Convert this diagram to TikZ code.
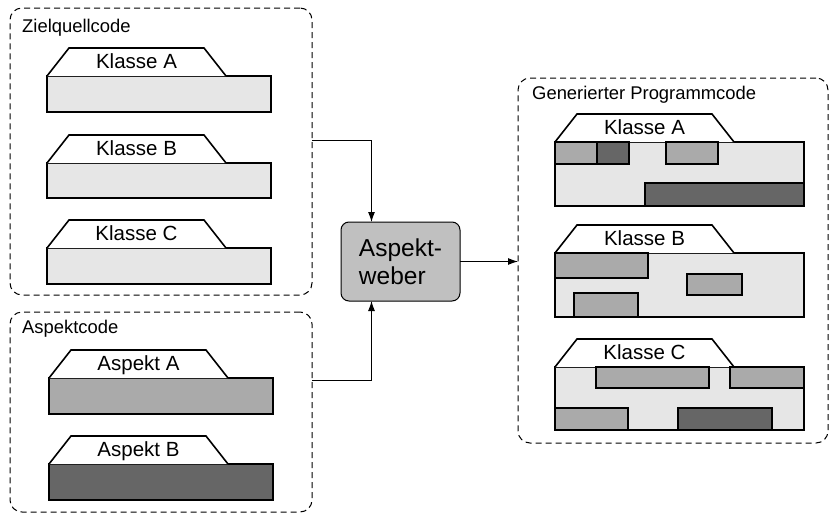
\documentclass[tikz,border=0pt]{standalone}
\usepackage{fontspec}
\setmainfont{Liberation Sans}
\usetikzlibrary{arrows.meta}

\definecolor{codegrau}{HTML}{E6E6E6}
\definecolor{aspekthell}{HTML}{AAAAAA}
\definecolor{aspektdunkel}{HTML}{666666}
\definecolor{webergrau}{HTML}{C0C0C0}

\tikzset{
  gruppe/.style={draw, dash pattern=on 6pt off 4pt, rounded corners=12pt, line width=1pt, inner sep=0pt, outer sep=0pt},
  gruppentitel/.style={anchor=base west, inner sep=0pt, font=\fontsize{18.4}{22}\selectfont},
  rumpf/.style={draw, line width=1.6pt, anchor=north west, inner sep=0pt, outer sep=0pt},
  reiter/.style={draw, line width=1.6pt, fill=white, line join=miter},
  reitertext/.style={anchor=base, inner sep=0pt, font=\fontsize{20.5}{24}\selectfont},
  teil/.style={draw, line width=1.6pt},
  weber/.style={draw, line width=1pt, fill=webergrau, rounded corners=8pt, minimum width=119pt, minimum height=79pt, align=left, outer sep=0pt, font=\fontsize{24.5}{28}\selectfont},
  pfeil/.style={-{Latex[length=10pt,width=7pt]}, line width=1pt},
}

% name, top-left of body, width, height, fill, label
\newcommand{\klasse}[6]{%
  \node[rumpf, fill=#5, minimum width=#3pt, minimum height=#4pt] (#1) at (#2) {};
  \draw[reiter] (#1.north west) -- ++(22,-28) -- ++(135,0) -- ++(22,28);
  \node[reitertext] (#1-name) at ([xshift=89.5pt,yshift=7.5pt]#1.north west) {#6};
}

\begin{document}
\begin{tikzpicture}[x=1pt, y=-1pt]
  \useasboundingbox (0,0) rectangle (830,514);

  % Gruppen
  \node[gruppe, minimum width=302pt, minimum height=287pt] (ziel) at (161,151.5) {};
  \node[gruppe, minimum width=302pt, minimum height=200pt] (asp) at (161,412) {};
  \node[gruppe, minimum width=310pt, minimum height=365pt] (gen) at (673,260.5) {};
  \node[gruppentitel] (ziel-titel) at (22,32) {Zielquellcode};
  \node[gruppentitel] (asp-titel) at (22,333) {Aspektcode};
  \node[gruppentitel] (gen-titel) at (532,99) {Generierter Programmcode};

  % Zielquellcode
  \klasse{zA}{47,76}{224}{36}{codegrau}{Klasse A}
  \klasse{zB}{47,163}{224}{35}{codegrau}{Klasse B}
  \klasse{zC}{47,248}{224}{36}{codegrau}{Klasse C}

  % Aspektcode
  \klasse{aA}{49,378}{224}{36}{aspekthell}{Aspekt A}
  \klasse{aB}{49,464}{224}{36}{aspektdunkel}{Aspekt B}

  % Generierter Programmcode
  \klasse{gA}{555,142}{249}{64}{codegrau}{Klasse A}
  \draw[teil, fill=aspekthell] (555,142) rectangle (597,164);
  \draw[teil, fill=aspektdunkel] (597,142) rectangle (629,164);
  \draw[teil, fill=aspekthell] (666,142) rectangle (718,164);
  \draw[teil, fill=aspektdunkel] (645,183) rectangle (804,206);

  \klasse{gB}{555,253}{249}{64}{codegrau}{Klasse B}
  \draw[teil, fill=aspekthell] (555,253) rectangle (648,278);
  \draw[teil, fill=aspekthell] (687,274) rectangle (742,295);
  \draw[teil, fill=aspekthell] (574,293) rectangle (638,317);

  \klasse{gC}{555,367}{249}{63}{codegrau}{Klasse C}
  \draw[teil, fill=aspekthell] (596,367) rectangle (709,388);
  \draw[teil, fill=aspekthell] (730,367) rectangle (804,388);
  \draw[teil, fill=aspekthell] (555,408) rectangle (628,430);
  \draw[teil, fill=aspektdunkel] (678,408) rectangle (772,430);

  % Weber
  \node[weber] (weber) at (400.5,261.5) {Aspekt-\\weber};

  \draw[pfeil] ([yshift=11.5pt]ziel.east) -| ([xshift=-29pt]weber.north);
  \draw[pfeil] ([yshift=32pt]asp.east) -| ([xshift=-29pt]weber.south);
  \draw[pfeil] (weber.east) -- (weber.east -| gen.west);
\end{tikzpicture}
\end{document}
